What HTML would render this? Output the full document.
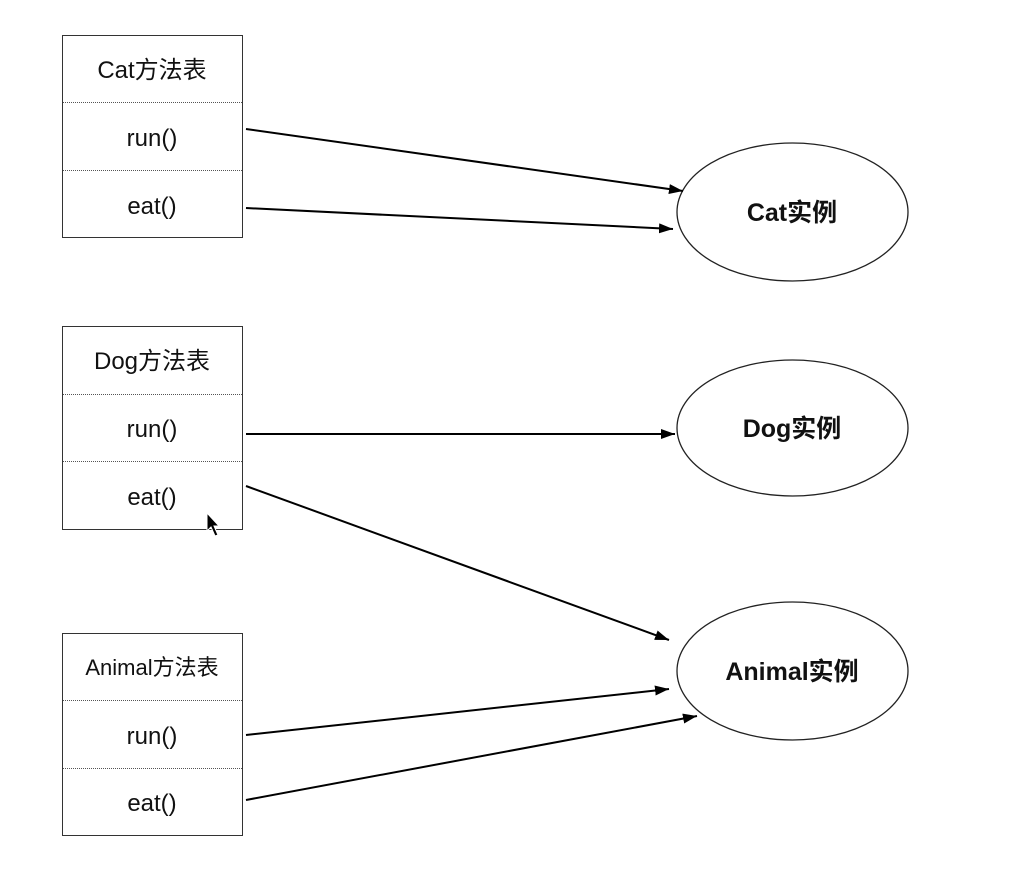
<!DOCTYPE html>
<html><head><meta charset="utf-8"><style>
body{margin:0;background:#fff;width:1012px;height:876px;overflow:hidden}
svg text{font-family:"Liberation Sans","Noto Sans CJK SC",sans-serif;}
</style></head><body>
<svg width="1012" height="876" viewBox="0 0 1012 876">
<defs><marker id="a" markerWidth="14" markerHeight="10" refX="14" refY="5" orient="auto" markerUnits="userSpaceOnUse"><path d="M0,0 L14,5 L0,10 z" fill="#000"/></marker></defs>
<g fill="none" stroke="#333" stroke-width="1">
<rect x="62.5" y="35.5" width="180" height="202"/>
<rect x="62.5" y="326.5" width="180" height="203"/>
<rect x="62.5" y="633.5" width="180" height="202"/>
</g>
<g stroke="#555" stroke-width="1" stroke-dasharray="1,1">
<line x1="63" y1="102.5" x2="242" y2="102.5"/><line x1="63" y1="170.5" x2="242" y2="170.5"/>
<line x1="63" y1="394.5" x2="242" y2="394.5"/><line x1="63" y1="461.5" x2="242" y2="461.5"/>
<line x1="63" y1="700.5" x2="242" y2="700.5"/><line x1="63" y1="768.5" x2="242" y2="768.5"/>
</g>
<g font-size="24" text-anchor="middle" fill="#111">
<text x="152" y="78">Cat方法表</text><text x="152" y="146">run()</text><text x="152" y="214">eat()</text>
<text x="152" y="369">Dog方法表</text><text x="152" y="437">run()</text><text x="152" y="505">eat()</text>
<text x="152" y="675" font-size="22">Animal方法表</text><text x="152" y="744">run()</text><text x="152" y="811">eat()</text>
</g>
<g fill="none" stroke="#222" stroke-width="1.3">
<ellipse cx="792.5" cy="212" rx="115.5" ry="69"/>
<ellipse cx="792.5" cy="428" rx="115.5" ry="68"/>
<ellipse cx="792.5" cy="671" rx="115.5" ry="69"/>
</g>
<g font-size="25" font-weight="bold" text-anchor="middle" fill="#111">
<text x="792" y="221">Cat实例</text><text x="792" y="437">Dog实例</text><text x="792" y="680">Animal实例</text>
</g>
<g stroke="#000" stroke-width="2" marker-end="url(#a)">
<line x1="246" y1="129" x2="683" y2="191"/>
<line x1="246" y1="208" x2="673" y2="229"/>
<line x1="246" y1="434" x2="675" y2="434"/>
<line x1="246" y1="486" x2="669" y2="640"/>
<line x1="246" y1="735" x2="669" y2="689"/>
<line x1="246" y1="800" x2="697" y2="716"/>
</g>
<path d="M207,513 L207,531 L211,527 L215,536 L218,535 L214,526 L219,526 z" fill="#000" stroke="#fff" stroke-width="1"/>
</svg>
</body></html>
